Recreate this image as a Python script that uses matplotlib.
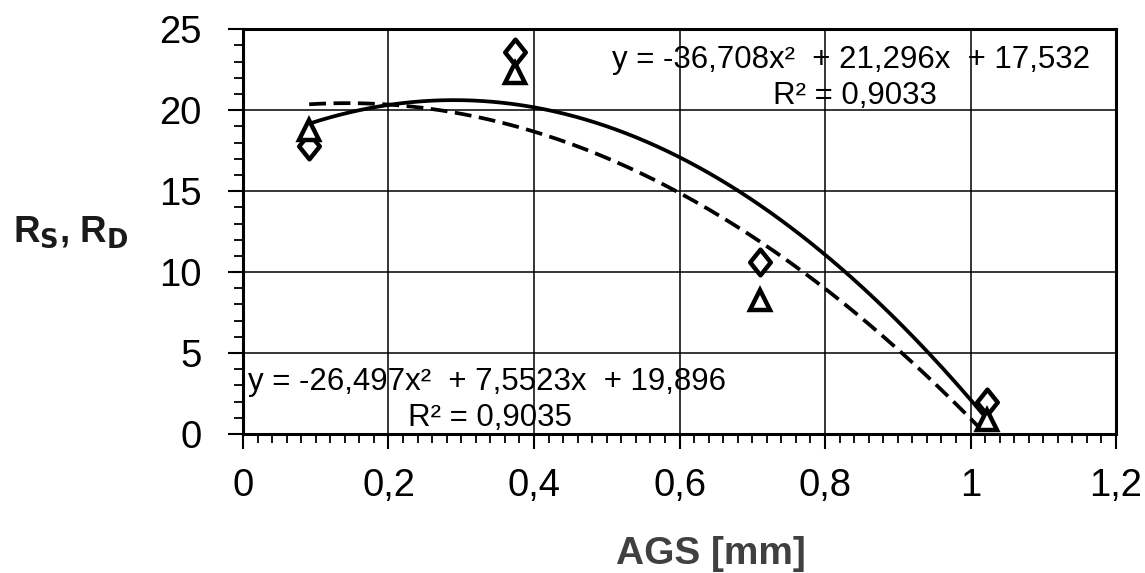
import numpy as np
import matplotlib
matplotlib.use("Agg")
import matplotlib.pyplot as plt
from matplotlib.path import Path
from matplotlib.ticker import MultipleLocator, FuncFormatter

plt.rcParams['font.family'] = ['Liberation Sans', 'DejaVu Sans']

# measured points
ags = [0.091, 0.374, 0.711, 1.023]
rs_diamond = [17.8, 23.6, 10.6, 2.0]
rd_triangle = [18.8, 22.3, 8.3, 0.85]

# trendline coefficients (as printed on the chart)
coef_solid = [-36.708, 21.296, 17.532]
coef_dashed = [-26.497, 7.5523, 19.896]
label_solid = "y = -36,708x²  + 21,296x  + 17,532"
r2_solid = "R² = 0,9033"
label_dashed = "y = -26,497x²  + 7,5523x  + 19,896"
r2_dashed = "R² = 0,9035"

fig = plt.figure(figsize=(11.45, 5.73), dpi=100)
ax = fig.add_axes([0.2122, 0.2426, 0.7625, 0.7064])

xs = np.linspace(ags[0], ags[-1], 200)
ax.plot(xs, np.polyval(coef_solid, xs), color='black', lw=2.7, zorder=3)
ax.plot(xs, np.polyval(coef_dashed, xs), color='black', lw=2.7,
        dashes=(4.5, 2), zorder=3)

# diamond a bit taller than wide
diamond = Path([(0, 1), (0.8, 0), (0, -1), (-0.8, 0), (0, 1)],
               [Path.MOVETO, Path.LINETO, Path.LINETO, Path.LINETO, Path.CLOSEPOLY])
ax.plot(ags, rs_diamond, linestyle='none', marker=diamond, markersize=18.5,
        markerfacecolor='white', markeredgecolor='black', markeredgewidth=3.2, zorder=4)
ax.plot(ags, rd_triangle, linestyle='none', marker='^', markersize=15,
        markerfacecolor='white', markeredgecolor='black', markeredgewidth=3.2, zorder=4)

ax.set_xlim(0, 1.2)
ax.set_ylim(0, 25)
ax.xaxis.set_major_locator(MultipleLocator(0.2))
ax.xaxis.set_minor_locator(MultipleLocator(0.02))
ax.yaxis.set_major_locator(MultipleLocator(5))
ax.yaxis.set_minor_locator(MultipleLocator(1))


def comma_fmt(v, p):
    s = f"{v:.1f}".rstrip('0').rstrip('.')
    return s.replace('.', ',')


ax.xaxis.set_major_formatter(FuncFormatter(comma_fmt))
ax.yaxis.set_major_formatter(FuncFormatter(lambda v, p: f"{int(round(v))}"))
ax.grid(True, which='major', color='black', lw=1.1)
ax.tick_params(which='major', direction='out', length=10.5, width=1.5, labelsize=27.5)
ax.tick_params(axis='x', which='major', pad=14)
ax.tick_params(axis='y', which='major', pad=19)
ax.tick_params(which='minor', direction='out', length=6.5, width=1.3)
for s in ax.spines.values():
    s.set_linewidth(2.2)

ax.text(0.507, 23.1, label_solid, fontsize=22.5, va='center', ha='left', zorder=2)
ax.text(0.841, 20.9, r2_solid, fontsize=22.5, va='center', ha='center', zorder=2)
ax.text(0.007, 3.2, label_dashed, fontsize=22.5, va='center', ha='left', zorder=2)
ax.text(0.34, 1.0, r2_dashed, fontsize=22.5, va='center', ha='center', zorder=2)

fig.text(0.621, 0.0155, "AGS [mm]", fontsize=28, fontweight='bold', color='#404040',
         ha='center', va='baseline')
fig.text(0.0114, 0.5777, "R$_\\mathbf{S}$, R$_\\mathbf{D}$", fontsize=26.5, fontweight='bold',
         color='#1a1a1a', ha='left', va='baseline')

fig.savefig("out.png", dpi=100)
